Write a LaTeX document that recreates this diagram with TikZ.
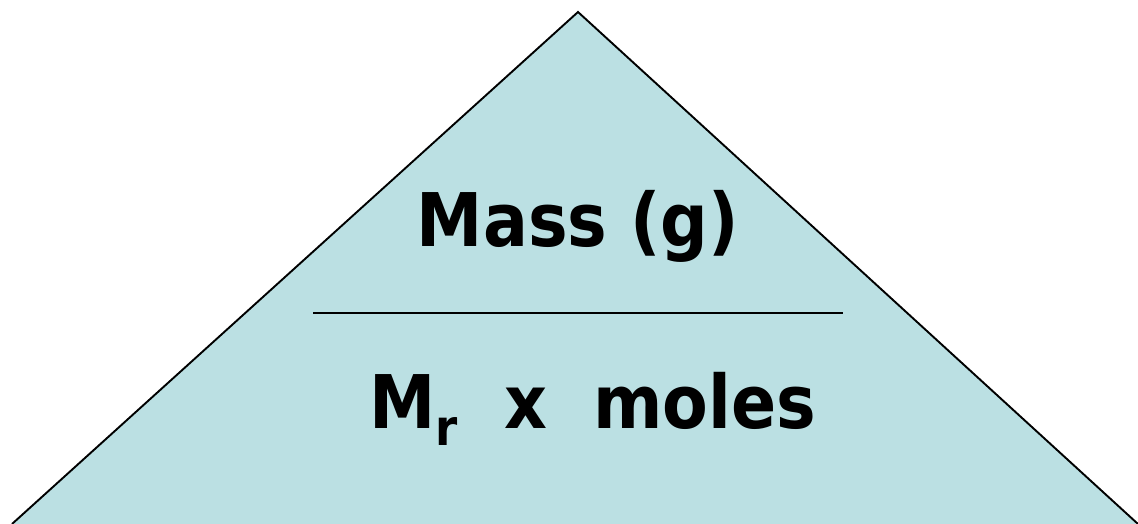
\documentclass[tikz,border=0pt]{standalone}
\usepackage{fontspec}
\setmainfont{DejaVu Sans Condensed}
\definecolor{triblue}{RGB}{187,224,227}
\tikzset{
    pyramid/.style = {draw=black, line width=1.9pt, line join=miter},
    bigtext/.style = {font=\fontsize{74}{80}\selectfont\bfseries, inner sep=0pt, anchor=base},
    divider/.style = {draw, line width=1.6pt}
}
\newcommand{\subr}{\raisebox{-17pt}{\fontsize{50}{54}\selectfont\bfseries r}}

\begin{document}
\begin{tikzpicture}[x=1pt, y=-1pt]
        \useasboundingbox (0,0) rectangle (1138,524);
        % Triangle
        \coordinate (left) at (12,524);
        \coordinate (apex) at (578,12);
        \coordinate (right) at (1138,524);
        \fill [triblue] (left) -- (apex) -- (right) -- cycle;
        \path [pyramid] (left) -- (apex) -- (right);
        
        % Top text
        \node [bigtext] (mass) at (578,246) {Mass (g)};
        
        % Divider
        \coordinate (divl) at (313,313);
        \coordinate (divr) at (843,313);
        \path [divider] (divl) -- (divr);
        
        % Bottom text
        \node [bigtext] (formula) at (593,428) {M\subr\ \ x\ \ moles};
    \end{tikzpicture}
\end{document}
